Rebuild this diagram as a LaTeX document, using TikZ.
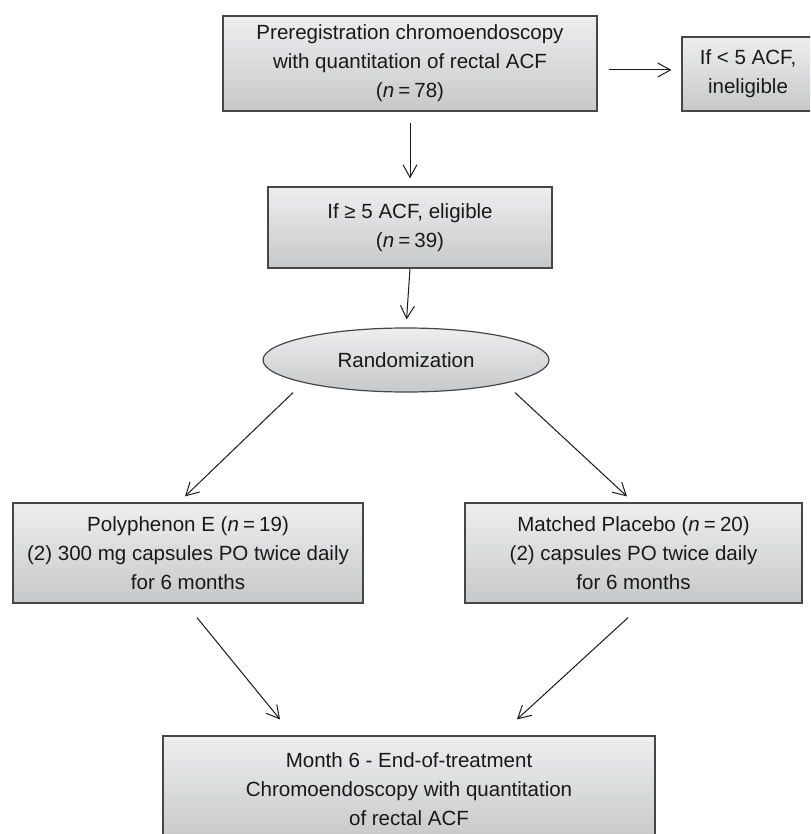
\documentclass[tikz,border=0pt]{standalone}
\usepackage{fontspec}
\setmainfont{Liberation Sans}
\usetikzlibrary{shapes.geometric,arrows.meta}
\definecolor{boxtop}{RGB}{238,238,239}
\definecolor{boxbot}{RGB}{199,200,202}
\definecolor{edgecol}{RGB}{70,70,70}
\definecolor{ink}{RGB}{25,25,25}
\newcommand{\nn}{\textit{n}\hspace{0.2em}=\hspace{0.2em}}
\begin{document}
\begin{tikzpicture}[x=0.75pt,y=-0.75pt,
  stepbox/.style={draw=edgecol,line width=0.9pt,top color=boxtop,bottom color=boxbot,
    inner sep=0pt,align=center,text=ink,font=\fontsize{15.4pt}{21.75pt}\selectfont},
  ovalbox/.style={stepbox,ellipse},
  arr/.style={draw=ink,line width=0.75pt,-{Straight Barb[length=9.5pt,width=10.5pt,line width=0.75pt]}}]
\useasboundingbox (0,0) rectangle (810,834);
\clip (0,0) rectangle (810,834);
\node[stepbox,minimum width=280.5pt,minimum height=71.25pt] (A) at (410,63.5)
  {Preregistration chromoendoscopy\\with quantitation of rectal ACF\\(\nn 78)};
\node[stepbox,minimum width=111pt,minimum height=55.5pt] (B) at (756,74)
  {If < 5 ACF,\hspace*{12pt}\\ineligible\hspace*{12pt}};
\node[stepbox,minimum width=213pt,minimum height=60.75pt] (C) at (410,227.5)
  {If ≥ 5 ACF, eligible\\(\nn 39)};
\node[ovalbox,minimum width=214.5pt,minimum height=48pt] (D) at (406,360)
  {Randomization};
\node[stepbox,minimum width=262.5pt,minimum height=75pt] (E) at (188,553)
  {Polyphenon E (\nn 19)\\(2) 300 mg capsules PO twice daily\\for 6 months};
\node[stepbox,minimum width=252.75pt,minimum height=75pt] (F) at (633.5,553)
  {Matched Placebo (\nn 20)\\(2) capsules PO twice daily\\for 6 months};
\node[stepbox,minimum width=369pt,minimum height=79.5pt] (G) at (409,789)
  {Month 6 - End-of-treatment\\Chromoendoscopy with quantitation\\of rectal ACF};
\coordinate (ab) at ([yshift=3pt]B.west);
\draw[arr,shorten <=8.25pt,shorten >=7.5pt] (A.east |- ab) -- (ab);
\draw[arr,shorten <=8.25pt,shorten >=6pt] (A.south) -- (C.north);
\draw[arr,shorten >=6pt] (C.south) -- (D.north);
\draw[arr] ([xshift=-84.75pt]D.south) -- ([xshift=-2.25pt,yshift=4.5pt]E.north);
\draw[arr] ([xshift=81.75pt]D.south) -- ([xshift=-4.9pt,yshift=4.5pt]F.north);
\draw[arr] ([xshift=6.75pt,yshift=-10.5pt]E.south) -- ([xshift=-96.75pt,yshift=12pt]G.north);
\draw[arr] ([xshift=-4.1pt,yshift=-10.5pt]F.south) -- ([xshift=81pt,yshift=12pt]G.north);
\end{tikzpicture}
\end{document}
